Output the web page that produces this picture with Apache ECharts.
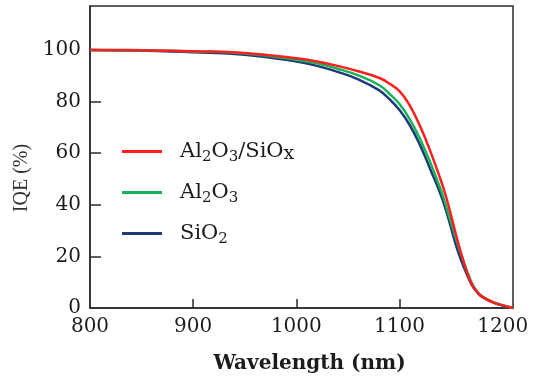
<!DOCTYPE html>
<html>
<head>
<meta charset="utf-8">
<script src="https://cdn.jsdelivr.net/npm/echarts@6/dist/echarts.min.js"></script>
<style>
  html, body { margin: 0; padding: 0; background: #fff; }
  #chart { width: 538px; height: 379px; }
</style>
</head>
<body>
<div id="chart"></div>
<script>
// IQE vs wavelength for three passivation stacks
const wavelengths = [800, 850, 900, 950, 1000, 1020, 1040, 1060, 1080, 1090, 1100, 1110, 1120,
  1130, 1140, 1145, 1150, 1155, 1160, 1165, 1170, 1175, 1180, 1190, 1200, 1210];
const iqeAl2O3SiOx = [100, 99.9, 99.5, 98.8, 96.8, 95.5, 93.8, 91.7, 89.2, 87.0, 84.0, 78.4, 70.4,
  60.6, 49.5, 43.3, 35.8, 28.0, 20.8, 14.3, 9.3, 6.3, 4.4, 2.3, 1.0, 0];
const iqeAl2O3 = [100, 99.8, 99.4, 98.6, 96.2, 94.8, 92.7, 90.1, 86.4, 83.1, 79.0, 73.1, 65.4,
  56.2, 45.8, 39.6, 33.0, 26.6, 20.6, 14.8, 9.8, 6.5, 4.5, 2.4, 1.0, 0];
const iqeSiO2 = [100, 99.7, 99.1, 98.1, 95.5, 93.8, 91.5, 88.6, 84.4, 81.0, 76.7, 70.8, 63.0,
  53.6, 43.9, 37.9, 31.0, 24.0, 18.2, 13.3, 9.0, 6.2, 4.3, 2.3, 1.0, 0];

const xLabelValues = [800, 900, 1000, 1100, 1200];
const xTickValues = [900, 1000, 1100];
const yLabelValues = [0, 20, 40, 60, 80, 100];
const yTickValues = [20, 40, 60, 80];

const AXIS = "#2b2b2b";
const TXT = "#1c1c1c";
const SERIF = "DejaVu Serif";

const chart = echarts.init(document.getElementById("chart"), null, { renderer: "canvas" });

const pairs = (ys) => wavelengths.map((x, i) => [x, ys[i]]);
const line = (name, ys, color, z) => ({
  name, type: "line", data: pairs(ys), smooth: 0.45, showSymbol: false, z,
  lineStyle: { color, width: 2.5 }, itemStyle: { color },
});

// legend labels with subscripts
const LEGEND_TXT = {
  "Al2O3/SiOx": "{m|Al}{s|2}{m|O}{s|3}{m|/SiO}{x|x}",
  "Al2O3": "{m|Al}{s|2}{m|O}{s|3}",
  "SiO2": "{m|SiO}{s|2}",
};

chart.setOption({
  backgroundColor: "#fff",
  animation: false,
  grid: { left: 90, right: 25, top: 6, bottom: 71, show: true, borderColor: AXIS, borderWidth: 1.5 },
  legend: {
    orient: "vertical", left: 122, top: 138, itemGap: 14, padding: 0,
    icon: "rect", itemWidth: 40, itemHeight: 3,
    data: ["Al2O3/SiOx", "Al2O3", "SiO2"],
    formatter: (n) => LEGEND_TXT[n],
    textStyle: {
      padding: [0, 0, 0, 13],
      rich: {
        m: { fontFamily: SERIF, fontSize: 21, color: TXT, lineHeight: 28 },
        s: { fontFamily: SERIF, fontSize: 15, color: TXT, lineHeight: 16, padding: [12, 0, 0, 0] },
        x: { fontFamily: SERIF, fontSize: 19, color: TXT, lineHeight: 20, padding: [6, 0, 0, 0] },
      },
    },
  },
  xAxis: {
    type: "value", min: 800, max: 1210,
    name: "Wavelength (nm)", nameLocation: "middle", nameGap: 46,
    nameTextStyle: { fontFamily: SERIF, fontSize: 20, fontWeight: "bold", color: TXT, padding: [0, 0, 0, 16] },
    axisLine: { lineStyle: { color: AXIS, width: 1.5 } },
    axisTick: { inside: true, length: 9, customValues: xTickValues, lineStyle: { color: AXIS, width: 1.5 } },
    axisLabel: { customValues: xLabelValues, formatter: (v) => String(v), fontFamily: SERIF, fontSize: 20, color: TXT, margin: 9 },
    splitLine: { show: false },
  },
  yAxis: {
    type: "value", min: 0, max: 117,
    name: "IQE (%)", nameLocation: "middle", nameGap: 46,
    nameTextStyle: { fontFamily: "Liberation Serif", fontSize: 20, color: "#333", padding: [0, 42, 0, 0] },
    axisLine: { lineStyle: { color: AXIS, width: 1.5 } },
    axisTick: { inside: true, length: 11, customValues: yTickValues, lineStyle: { color: AXIS, width: 1.5 } },
    axisLabel: { customValues: yLabelValues, formatter: (v) => String(v), fontFamily: SERIF, fontSize: 20, color: TXT, margin: 9 },
    splitLine: { show: false },
  },
  series: [
    line("SiO2", iqeSiO2, "#1f3a78", 2),
    line("Al2O3", iqeAl2O3, "#16b257", 3),
    line("Al2O3/SiOx", iqeAl2O3SiOx, "#ff1f1f", 4),
  ],
});
</script>
</body>
</html>
